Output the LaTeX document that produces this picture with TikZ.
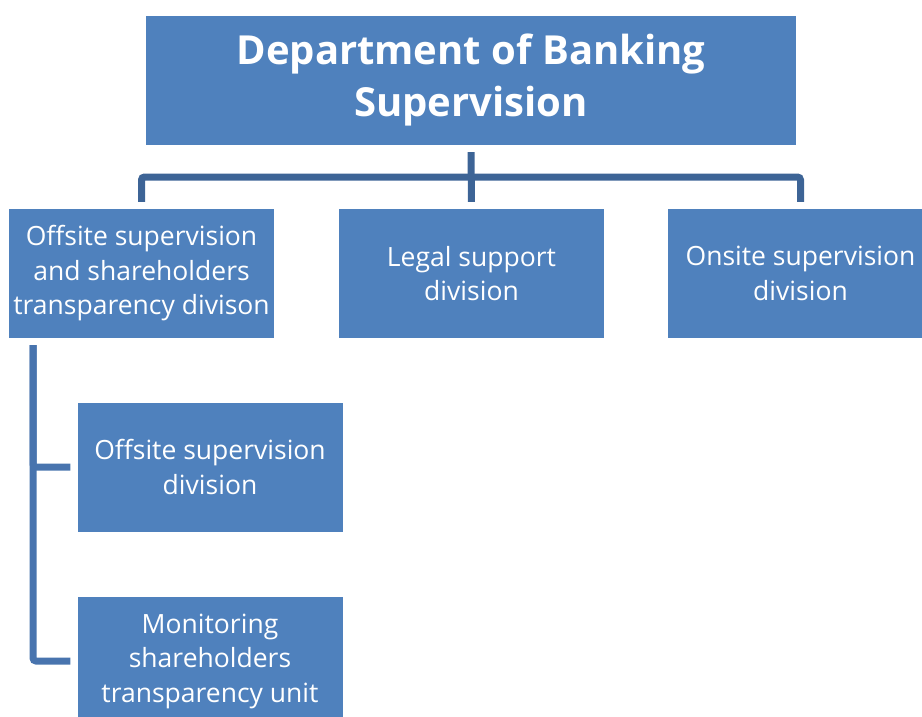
\documentclass[tikz,border=0pt]{standalone}
\usepackage{fontspec}
\setmainfont{Open Sans}
\usetikzlibrary{positioning, calc}

\definecolor{boxblue}{RGB}{79,129,189}
\definecolor{lineblue}{RGB}{61,100,150}
\definecolor{spineblue}{RGB}{72,116,174}

\begin{document}
\begin{tikzpicture}[x=1pt, y=-1pt,
           unit/.style={fill=boxblue, text=white, inner sep=0pt, align=center,
             minimum width=265pt, minimum height=129pt,
             font=\fontsize{26.5}{34.5}\selectfont},
           conn/.style={draw=lineblue, line width=7pt, rounded corners=3pt}]
           \useasboundingbox (0,0) rectangle (922,717);

           \node[unit, minimum width=650pt, font=\bfseries\fontsize{40}{52}\selectfont] at (471,80.5) (dept) {Department of Banking\\Supervision};

           \node[unit] at (141.5,273.5) (offsh) {Offsite supervision\\and shareholders\\transparency divison};
           \node[unit] at (471.5,273.5) (legal) {Legal support\\division};
           \node[unit] at (800.5,273.5) (onsite) {Onsite supervision\\division};

           \node[unit] at (210,467) (offdiv) {Offsite supervision\\division};
           \node[unit] at (210,661) (monit) {Monitoring\\shareholders\\transparency unit};

           \coordinate (bar) at (471,177);
           \coordinate (spine) at (33,345);

           \draw[conn, shorten <=7pt, shorten >=7pt] (dept.south) -- (legal.north);
           \draw[conn, shorten >=7pt] (bar) -| (offsh.north);
           \draw[conn, shorten >=7pt] (bar) -| (onsite.north);
           \draw[conn, draw=spineblue, shorten >=7pt] (spine) |- (offdiv.west);
           \draw[conn, draw=spineblue, shorten >=7pt] (spine) |- (monit.west);
        \end{tikzpicture}
\end{document}
